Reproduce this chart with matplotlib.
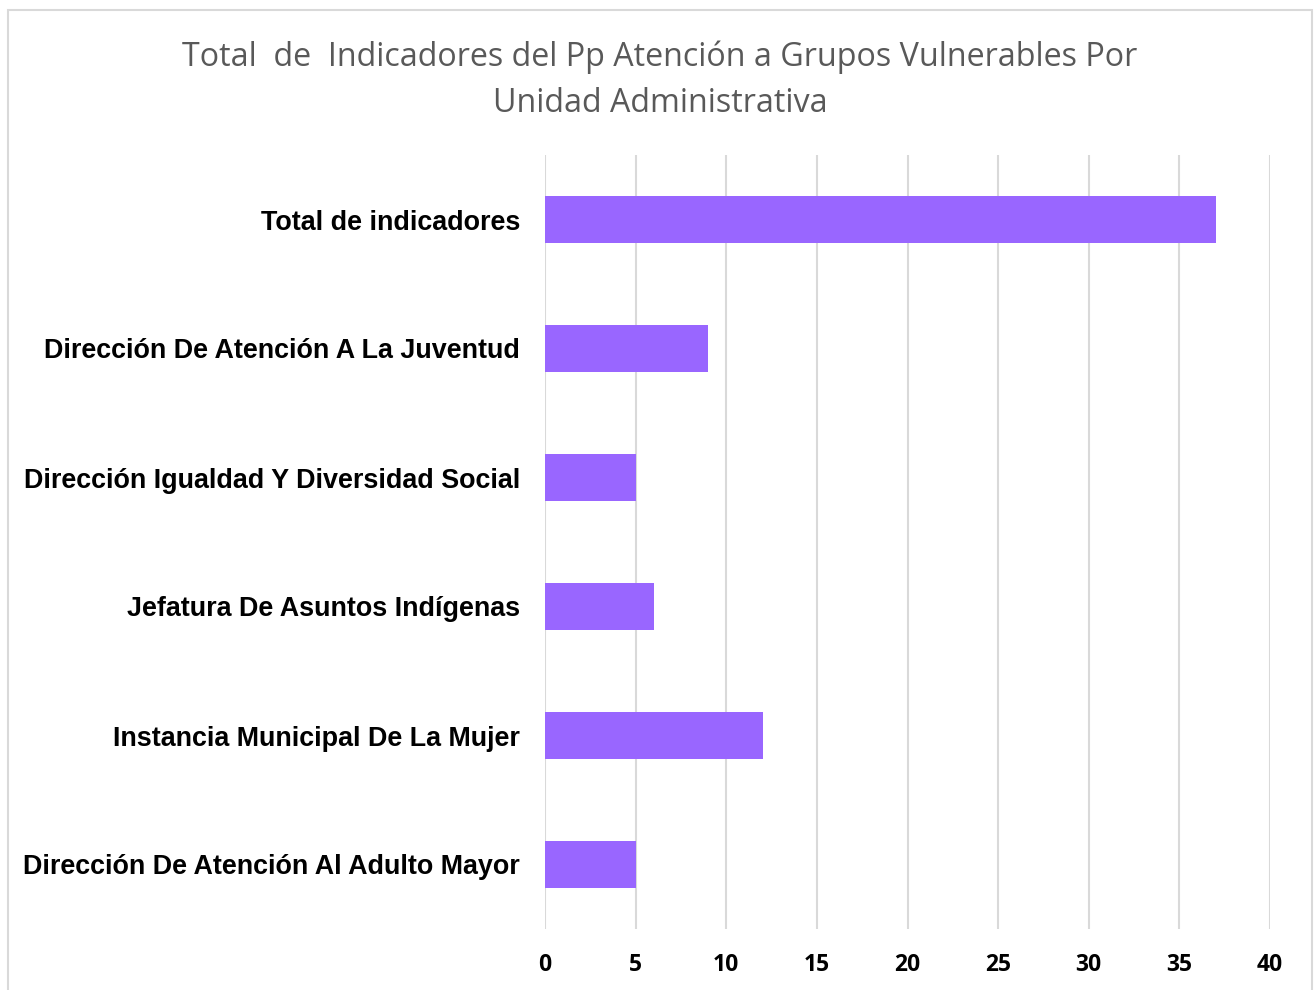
import matplotlib.pyplot as plt
from matplotlib.patches import Rectangle

# datos
unidades = ["Total de indicadores",
            "Dirección De Atención A La Juventud",
            "Dirección Igualdad Y Diversidad Social",
            "Jefatura De Asuntos Indígenas",
            "Instancia Municipal De La Mujer",
            "Dirección De Atención Al Adulto Mayor"]
indicadores = [37, 9, 5, 6, 12, 5]
ticks_x = [0, 5, 10, 15, 20, 25, 30, 35, 40]

fig = plt.figure(figsize=(13.14, 9.9), dpi=100)
fig.patches.append(Rectangle((8/1314, -0.02), (1312-8)/1314, 1.02 - 10/990,
                             transform=fig.transFigure, fill=False,
                             edgecolor='#D9D9D9', linewidth=1.5))

ax = fig.add_axes([545/1314, 1-929/990, (1270-545)/1314, (929-155)/990])
ypos = list(range(len(unidades)))
ax.barh(ypos, indicadores, height=0.357, color='#9966FF', zorder=3)
ax.set_ylim(len(unidades)-0.5, -0.5)
ax.set_xlim(0, 40)
ax.set_xticks(ticks_x)
ax.set_xticklabels([str(t) for t in ticks_x], fontfamily='Open Sans',
                   fontweight='bold', fontsize=16.5)
ax.set_yticks(ypos)
ax.set_yticklabels(unidades, fontfamily='Liberation Sans', fontweight='bold',
                   fontsize=19.4)
ax.tick_params(axis='y', length=0, pad=18)
ax.tick_params(axis='x', length=0, pad=17)
ax.grid(axis='x', color='#D9D9D9', linewidth=1.5, zorder=0)
for s in ax.spines.values():
    s.set_visible(False)

fig.text(660/1314, 1-80/990,
         "Total  de  Indicadores del Pp Atención a Grupos Vulnerables Por\nUnidad Administrativa",
         ha='center', va='center', fontsize=23.2, color='#595959',
         fontfamily='Open Sans', linespacing=1.5)

fig.savefig('out.png', dpi=100)
